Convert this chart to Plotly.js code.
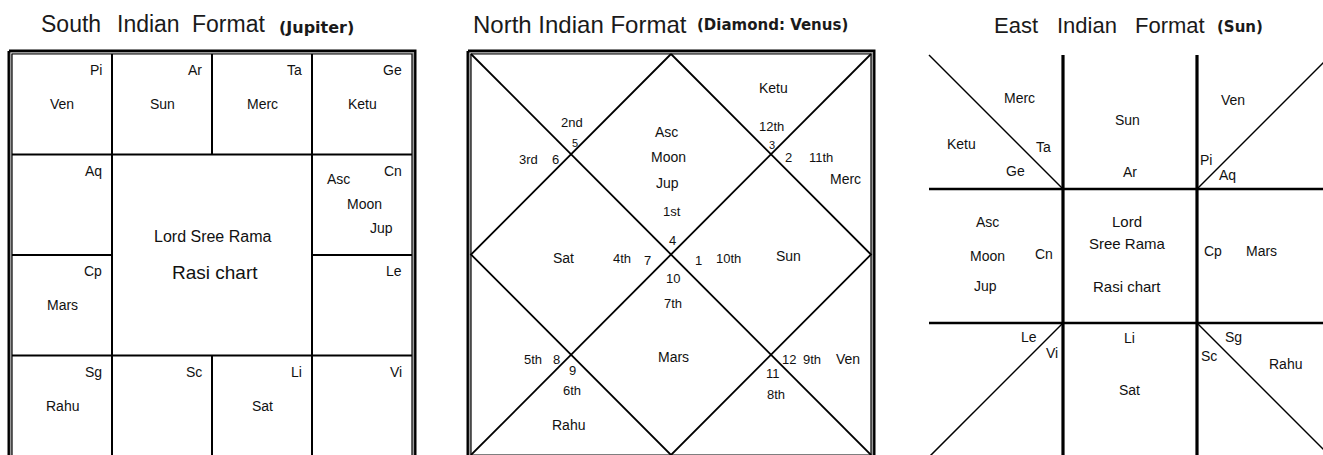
<!DOCTYPE html>
<html><head><meta charset="utf-8">
<script src="https://cdn.plot.ly/plotly-3.0.1.min.js"></script>
<style>html,body{margin:0;padding:0;background:#fff;}#chart{width:1323px;height:455px;}</style>
</head><body><div id="chart"></div>
<script>
// ---------------- data ----------------
const titles = ["South Indian Format", "North Indian Format", "East Indian Format"];
const subtitles = ["(Jupiter)", "(Diamond: Venus)", "(Sun)"];
const centreText = ["Lord Sree Rama", "Rasi chart"];

// South Indian (fixed signs, clockwise from Pisces in the top-left cell)
const southSigns = ["Pi", "Ar", "Ta", "Ge", "Cn", "Le", "Vi", "Li", "Sc", "Sg", "Cp", "Aq"];
const southPlanets = [["Ven"], ["Sun"], ["Merc"], ["Ketu"], ["Asc", "Moon", "Jup"], [], [], ["Sat"], [], ["Rahu"], ["Mars"], []];

// North Indian (houses 1..12 counter-clockwise from the top diamond)
const northHouses = ["1st", "2nd", "3rd", "4th", "5th", "6th", "7th", "8th", "9th", "10th", "11th", "12th"];
const northSignNums = ["4", "5", "6", "7", "8", "9", "10", "11", "12", "1", "2", "3"];
const northPlanets = [["Asc", "Moon", "Jup"], [], [], ["Sat"], [], ["Rahu"], ["Mars"], [], ["Ven"], ["Sun"], ["Merc"], ["Ketu"]];

// East Indian (fixed signs, Aries at top centre, counter-clockwise)
const eastSigns = ["Ar", "Ta", "Ge", "Cn", "Le", "Vi", "Li", "Sc", "Sg", "Cp", "Aq", "Pi"];
const eastPlanets = [["Sun"], ["Merc"], ["Ketu"], ["Asc", "Moon", "Jup"], [], [], ["Sat"], [], ["Rahu"], ["Mars"], [], ["Ven"]];

// ---------------- layout helpers ----------------
const W = 1323, H = 455;
const FONT = "Liberation Sans, Arial, sans-serif";
const BOLD = "DejaVu Sans, Verdana, sans-serif";
const INK = "#111111";

// pixel frame of each chart (origin + size of one unit)
const frames = [
  {ox: 12, oy: 54, sx: 100, sy: 100.5, dom: [0, 445]},
  {ox: 471, oy: 54, sx: 400, sy: 401, dom: [445, 885]},
  {ox: 929, oy: 55, sx: 134, sy: 134, dom: [885, 1323]}
];

const layout = {
  width: W, height: H, autosize: false,
  margin: {l: 0, r: 0, t: 0, b: 0, pad: 0},
  paper_bgcolor: "#ffffff", plot_bgcolor: "rgba(0,0,0,0)",
  showlegend: false, annotations: []
};
frames.forEach((f, i) => {
  const s = i === 0 ? "" : String(i + 1);
  layout["xaxis" + s] = {domain: [f.dom[0] / W, f.dom[1] / W],
    range: [(f.dom[0] - f.ox) / f.sx, (f.dom[1] - f.ox) / f.sx],
    visible: false, fixedrange: true, anchor: "y" + s};
  layout["yaxis" + s] = {domain: [0, 1],
    range: [(H - f.oy) / f.sy, -f.oy / f.sy],
    visible: false, fixedrange: true, anchor: "x" + s};
});

const traces = [];
function lines(ci, segs, width, color) {
  const s = ci === 0 ? "" : String(ci + 1);
  const x = [], y = [];
  segs.forEach(seg => { seg.forEach(p => { x.push(p[0]); y.push(p[1]); }); x.push(null); y.push(null); });
  traces.push({type: "scatter", mode: "lines", x: x, y: y, xaxis: "x" + s, yaxis: "y" + s,
    line: {color: color || "#000", width: width}, hoverinfo: "skip"});
}
function rect(x0, y0, x1, y1) { return [[x0, y0], [x1, y0], [x1, y1], [x0, y1], [x0, y0]]; }
// framed double border: thick black outside, grey band, thin black inside
function border(ci, f, w, h) {
  const d = (px) => [px / f.sx, px / f.sy];
  const o = d(3), g = d(1.2);
  lines(ci, [rect(-o[0], -o[1], w + o[0], h + o[1])], 3);
  lines(ci, [rect(-g[0], -g[1], w + g[0], h + g[1])], 1.8, "#9a9a9a");
  lines(ci, [rect(0, 0, w, h)], 1.2);
}
function label(ci, text, u, v, opt) {
  opt = opt || {};
  const s = ci === 0 ? "" : String(ci + 1);
  layout.annotations.push({text: text, x: u, y: v, xref: "x" + s, yref: "y" + s,
    showarrow: false, xanchor: opt.xanchor || "center", yanchor: "middle",
    font: {family: opt.family || FONT, size: opt.size || 14, color: INK, weight: opt.weight || "normal"}});
}
function paperText(text, px, py, opt) {
  layout.annotations.push({text: text, x: px / W, y: 1 - py / H, xref: "paper", yref: "paper",
    showarrow: false, xanchor: "left", yanchor: "middle",
    font: {family: opt.family, size: opt.size, color: "#1a1a1a", weight: opt.weight || "normal"}});
}

// ---------------- titles ----------------
// word start pixels (x), title centre y, subtitle start x, subtitle y, sizes
const titleWords = [[39, 115, 190], [471], [992, 1055, 1133]];
const titleY = [24, 24, 25];
const titleSize = [23, 24, 22];
const subPos = [[277, 27, 16], [695, 25, 15], [1215, 27, 15]];
titles.forEach((t, i) => {
  const starts = titleWords[i];
  const words = starts.length === 1 ? [t] : t.split(" ");
  words.forEach((w, k) => paperText(w, starts[k], titleY[i], {family: FONT, size: titleSize[i]}));
  paperText(subtitles[i], subPos[i][0], subPos[i][1], {family: BOLD, size: subPos[i][2], weight: "bold"});
});

// ---------------- South Indian chart ----------------
(function () {
  border(0, frames[0], 4, 4);
  lines(0, [[[1, 0], [1, 4]], [[3, 0], [3, 4]], [[2, 0], [2, 1]], [[2, 3], [2, 4]],
            [[0, 1], [4, 1]], [[0, 3], [4, 3]], [[0, 2], [1, 2]], [[3, 2], [4, 2]]], 2);
  const cells = [[0, 0], [1, 0], [2, 0], [3, 0], [3, 1], [3, 2], [3, 3], [2, 3], [1, 3], [0, 3], [0, 2], [0, 1]];
  const stack = [[0.26, 0.24], [0.52, 0.49], [0.69, 0.73]];
  southSigns.forEach((sg, i) => {
    const c = cells[i];
    label(0, sg, c[0] + 1 - 0.085, c[1] + 0.16, {xanchor: "right"});
    const pl = southPlanets[i];
    if (pl.length === 1) label(0, pl[0], c[0] + 0.5, c[1] + 0.5);
    else pl.forEach((p, k) => label(0, p, c[0] + stack[k][0], c[1] + stack[k][1]));
  });
  label(0, centreText[0], 2.0, 1.82, {size: 16});
  label(0, centreText[1], 2.03, 2.17, {size: 19});
})();

// ---------------- North Indian chart ----------------
(function () {
  border(1, frames[1], 1, 1);
  lines(1, [[[0, 0], [1, 1]], [[1, 0], [0, 1]],
            [[0.5, 0], [1, 0.5], [0.5, 1], [0, 0.5], [0.5, 0]]], 1.8);
  const housePos = [[0.5025, 0.392], [0.2525, 0.172], [0.1425, 0.262], [0.3775, 0.509], [0.155, 0.761], [0.2525, 0.838],
                    [0.505, 0.623], [0.7625, 0.850], [0.8525, 0.761], [0.6425, 0.509], [0.875, 0.257], [0.75, 0.182]];
  const numPos = [[0.5025, 0.466], [0.26, 0.222], [0.21, 0.262], [0.44, 0.514], [0.2125, 0.761], [0.2525, 0.79],
                  [0.505, 0.559], [0.755, 0.796], [0.795, 0.761], [0.5675, 0.514], [0.7925, 0.257], [0.7525, 0.227]];
  const planetPos = [[[0.4875, 0.195], [0.4925, 0.257], [0.49, 0.322]], [], [], [[0.23, 0.509]], [], [[0.2425, 0.925]],
                     [[0.505, 0.756]], [], [[0.9425, 0.761]], [[0.7925, 0.504]], [[0.935, 0.312]], [[0.755, 0.085]]];
  northHouses.forEach((h, i) => {
    label(1, h, housePos[i][0], housePos[i][1], {size: 13});
    label(1, northSignNums[i], numPos[i][0], numPos[i][1], {size: (i === 1 || i === 11) ? 11 : 13});
    northPlanets[i].forEach((p, k) => label(1, p, planetPos[i][k][0], planetPos[i][k][1]));
  });
})();

// ---------------- East Indian chart ----------------
(function () {
  lines(2, [[[1, 0], [1, 3.1]], [[2, 0], [2, 3.1]]], 3.2);
  lines(2, [[[0, 1], [3.3, 1]], [[0, 2], [3.3, 2]]], 2.5);
  lines(2, [[[0, 0], [1, 1]], [[2, 1], [3, 0]], [[1, 2], [0, 3]], [[2, 2], [3, 3]]], 1.5);
  const signPos = [[1.50, 0.873], [0.858, 0.687], [0.649, 0.866], [0.858, 1.485], [0.746, 2.104], [0.918, 2.224],
                   [1.493, 2.112], [2.09, 2.246], [2.269, 2.104], [2.119, 1.463], [2.224, 0.896], [2.067, 0.784]];
  const planetPos = [[[1.478, 0.485]], [[0.679, 0.321]], [[0.246, 0.664]], [[0.433, 1.246], [0.433, 1.5], [0.425, 1.724]],
                     [], [], [[1.493, 2.5]], [], [[2.657, 2.306]], [[2.478, 1.463]], [], [[2.269, 0.336]]];
  eastSigns.forEach((sg, i) => {
    label(2, sg, signPos[i][0], signPos[i][1]);
    eastPlanets[i].forEach((p, k) => label(2, p, planetPos[i][k][0], planetPos[i][k][1]));
  });
  const sp = centreText[0].indexOf(" ");
  label(2, centreText[0].slice(0, sp), 1.478, 1.239, {size: 15});
  label(2, centreText[0].slice(sp + 1), 1.485, 1.41, {size: 15});
  label(2, centreText[1], 1.478, 1.731, {size: 15});
})();

Plotly.newPlot("chart", traces, layout, {staticPlot: true, displayModeBar: false});
</script>
</body></html>
